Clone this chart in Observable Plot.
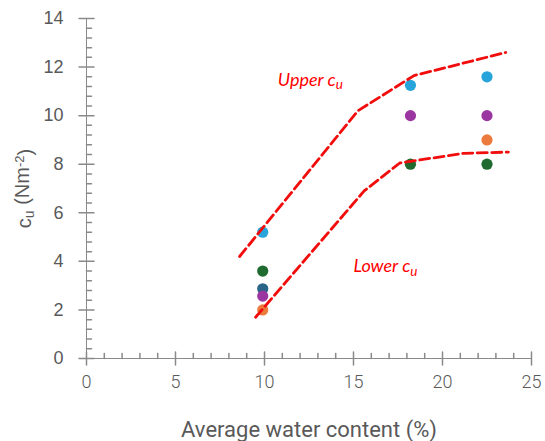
<!DOCTYPE html>
<html><head><meta charset="utf-8">
<script src="https://cdn.jsdelivr.net/npm/d3@7"></script>
<script src="https://cdn.jsdelivr.net/npm/@observablehq/plot@0.6"></script>
<style>body{margin:0;background:#fff;}</style>
</head><body><div id="chart"></div>
<script>
// ---- data ----
const waterContent = [9.9, 18.2, 22.5];
const cuBlue   = [5.2, 11.25, 11.6];
const cuGreen  = [3.6, 8.0, 8.0];
const cuNavy   = [2.87, null, null];
const cuPurple = [2.57, 10.0, 10.0];
const cuOrange = [2.0, null, 9.0];
const seriesNames  = ["Series 1", "Series 2", "Series 3", "Series 4", "Series 5"];
const seriesColors = ["#27a5da", "#1f6a2e", "#2a6489", "#9b36a0", "#ea7b3d"];
const upperX = [8.6, 15.25, 18.4, 23.55];
const upperY = [4.2, 10.2, 11.65, 12.6];
const lowerX = [9.5, 15.6, 17.6, 21.2, 23.7];
const lowerY = [1.7, 6.9, 8.05, 8.45, 8.5];
const annotText = ["Upper c", "Lower c"];
const annotX = [10.75, 15.0];
const annotY = [11.24, 3.55];
const xTicks = [0, 5, 10, 15, 20, 25];
const yTicks = [0, 2, 4, 6, 8, 10, 12, 14];
const xMinor = [1,2,3,4,6,7,8,9,11,12,13,14,16,17,18,19,21,22,23,24];
const yMinor = [0.4,0.8,1.2,1.6,2.4,2.8,3.2,3.6,4.4,4.8,5.2,5.6,6.4,6.8,7.2,7.6,8.4,8.8,9.2,9.6,10.4,10.8,11.2,11.6,12.4,12.8,13.2,13.6];
const xLabel = "Average water content (%)";
const yLabelMain = "c";

// ---- tables ----
const seriesValues = [cuBlue, cuGreen, cuNavy, cuPurple, cuOrange];
const points = [];
seriesValues.forEach((vals, s) => vals.forEach((v, i) => {
  if (v != null) points.push({x: waterContent[i], cu: v, series: seriesNames[s]});
}));
const upper = upperX.map((x, i) => ({x, y: upperY[i]}));
const lower = lowerX.map((x, i) => ({x, y: lowerY[i]}));
const annots = annotText.map((t, i) => ({t, x: annotX[i], y: annotY[i]}));

const lineShape = {draw(ctx, l) { ctx.moveTo(0, 0); ctx.lineTo(0, -l); }};
const axisGray = "#8a8a8a";
const labelGray = "#595959";

const svg = Plot.plot({
  width: 545, height: 441,
  marginLeft: 86, marginRight: 14, marginTop: 18, marginBottom: 83,
  x: {domain: [0, 25], axis: null},
  y: {domain: [0, 14], axis: null},
  color: {type: "ordinal", domain: seriesNames, range: seriesColors},
  marks: [
    Plot.ruleX([0], {stroke: axisGray}),
    Plot.ruleY([0], {stroke: axisGray}),
    Plot.vector(xTicks, {x: d => d, y: 0, length: 13, rotate: 0, anchor: "middle", shape: lineShape, stroke: axisGray}),
    Plot.vector(yTicks, {x: 0, y: d => d, length: 15, rotate: 90, anchor: "middle", shape: lineShape, stroke: axisGray}),
    Plot.vector(xMinor, {x: d => d, y: 0, length: 5, rotate: 0, anchor: "start", shape: lineShape, stroke: axisGray}),
    Plot.vector(yMinor, {x: 0, y: d => d, length: 5, rotate: 90, anchor: "start", shape: lineShape, stroke: axisGray}),
    Plot.axisX({ticks: xTicks, tickSize: 0, tickPadding: 17, fill: labelGray, fontSize: 18, fontFamily: "Roboto", fontWeight: 300, label: null}),
    Plot.axisY({ticks: yTicks, tickSize: 0, tickPadding: 23, fill: labelGray, fontSize: 18, fontFamily: "Liberation Sans", label: null}),
    Plot.dot(points, {x: "x", y: "cu", fill: "series", r: 5.6}),
    Plot.line(upper, {x: "x", y: "y", stroke: "#f20d0d", strokeWidth: 2.8, strokeDasharray: "10,4.5"}),
    Plot.line(lower, {x: "x", y: "y", stroke: "#f20d0d", strokeWidth: 2.8, strokeDasharray: "10,4.5"}),
    Plot.text(annots, {x: "x", y: "y", text: "t", textAnchor: "start", lineAnchor: "bottom", fill: "#f00", fontSize: 18, fontStyle: "italic", fontFamily: "Lato"}),
    Plot.text([xLabel], {frameAnchor: "bottom", dy: 78, lineAnchor: "bottom", fill: labelGray, fontSize: 22, fontFamily: "Roboto", fontWeight: 400}),
    Plot.text([yLabelMain], {frameAnchor: "left", dx: -62, rotate: -90, textAnchor: "middle", lineAnchor: "middle", fill: labelGray, fontSize: 20, fontFamily: "Liberation Sans"})
  ]
});

const S = d3.select(svg);
S.selectAll("text").filter(function() { return annotText.includes(this.textContent); }).each(function() {
  const el = d3.select(this);
  const t = this.textContent;
  el.text(null);
  el.append("tspan").text(t);
  el.append("tspan").attr("dy", "0.25em").attr("font-size", "0.75em").text("u");
});
S.selectAll("text").filter(function() { return this.textContent === yLabelMain; }).each(function() {
  const el = d3.select(this);
  el.text(null);
  el.append("tspan").text("c");
  el.append("tspan").attr("dy", "0.25em").attr("font-size", "0.7em").text("u");
  el.append("tspan").attr("dy", "-0.25em").text(" (Nm");
  el.append("tspan").attr("dy", "-0.4em").attr("font-size", "0.65em").text("-2");
  el.append("tspan").attr("dy", "0.4em").text(")");
});

document.getElementById("chart").appendChild(svg);
</script>
</body></html>
